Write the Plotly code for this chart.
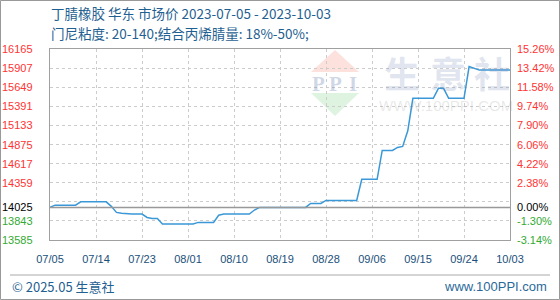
import pandas as pd
import plotly.graph_objects as go

# 丁腈橡胶 华东 市场价, daily quotes from 2023-07-05
start_date = "2023-07-05"
end_date = "2023-10-03"
prices = [
    14025, 14056, 14056, 14056, 14056, 14056, 14100, 14100, 14100, 14100,
    14100, 14100, 14040, 13958, 13945, 13935, 13935, 13935, 13935, 13890,
    13877, 13877, 13802, 13802, 13802, 13802, 13802, 13802, 13802, 13823,
    13823, 13823, 13823, 13920, 13935, 13935, 13935, 13935, 13935, 13935,
    13990, 14025, 14025, 14025, 14025, 14025, 14025, 14025, 14025, 14025,
    14025, 14079, 14079, 14079, 14119, 14119, 14119, 14119, 14119, 14119,
    14119, 14405, 14405, 14405, 14405, 14795, 14795, 14795, 14835, 14849,
    15060, 15499, 15499, 15499, 15499, 15499, 15634, 15634, 15499, 15499,
    15499, 15499, 15928, 15907, 15880, 15880, 15880, 15880, 15880, 15880,
    15880,
]
dates = pd.date_range(start_date, periods=len(prices), freq="D")

base_price = 14025                      # 0% reference price
grid_prices = [13585 + 258 * k for k in range(11)]
label_prices = [13585, 13843, 14025, 14359, 14617, 14875,
                15133, 15391, 15649, 15907, 16165]
x_ticks = pd.date_range(start_date, end_date, freq="9D")

title_line1 = "丁腈橡胶 华东 市场价 2023-07-05 - 2023-10-03"
title_line2 = "门尼粘度: 20-140;结合丙烯腈量: 18%-50%;"

# plot area in page pixels
W_PAGE, H_PAGE = 560, 300
L, T, PW, PH = 50, 49, 460, 191


def px(x):
    return (x - L) / PW


def py(y):
    return (T + PH - y) / PH


RED, GREEN, BLACK = "#ff3333", "#33aa33", "#000000"
TEXT_BLUE = "#1f5f91"
LINE_BLUE = "#3a98d8"
FRAME = "#a0a0a0"

fig = go.Figure()
fig.add_trace(go.Scatter(
    x=dates, y=prices, mode="lines",
    line=dict(color=LINE_BLUE, width=1.5),
    hoverinfo="skip", showlegend=False,
))

annotations = []
shapes = []

# titles
annotations.append(dict(text=title_line1, x=px(49), y=py(13), xref="paper", yref="paper",
                        xanchor="left", yanchor="middle", showarrow=False,
                        font=dict(family="Noto Sans CJK SC", size=13.5, color=TEXT_BLUE)))
annotations.append(dict(text=title_line2, x=px(49), y=py(33), xref="paper", yref="paper",
                        xanchor="left", yanchor="middle", showarrow=False,
                        font=dict(family="Noto Sans CJK SC", size=13.5, color=TEXT_BLUE)))

# left price labels and right percent labels
for v in label_prices:
    col = RED if v > base_price else (BLACK if v == base_price else GREEN)
    pct = (v - base_price) / base_price * 100
    annotations.append(dict(text=str(v), x=px(35), y=v, xref="paper", yref="y",
                            xanchor="right", yanchor="middle", showarrow=False,
                            font=dict(family="Liberation Sans", size=11, color=col)))
    annotations.append(dict(text=f"{pct:.2f}%", x=px(515), y=v, xref="paper", yref="y",
                            xanchor="left", yanchor="middle", showarrow=False,
                            font=dict(family="Liberation Sans", size=11, color=col)))

# baseline at the reference price
shapes.append(dict(type="line", xref="paper", yref="y", x0=0, x1=1,
                   y0=base_price, y1=base_price,
                   line=dict(color="#999999", width=1.5), layer="above"))

# watermark logo
shapes.append(dict(type="path", xref="paper", yref="paper", layer="below",
                   path=f"M {px(335)} {py(50)} L {px(359)} {py(72)} L {px(311)} {py(72)} Z",
                   fillcolor="rgba(240,120,100,0.22)", line=dict(width=0)))
shapes.append(dict(type="path", xref="paper", yref="paper", layer="below",
                   path=f"M {px(311)} {py(93)} L {px(359)} {py(93)} L {px(335)} {py(116)} Z",
                   fillcolor="rgba(110,200,120,0.22)", line=dict(width=0)))
for ch, cx in zip("PPI", [318, 335, 353]):
    annotations.append(dict(text=f"<b>{ch}</b>", x=px(cx), y=py(84), xref="paper", yref="paper",
                            xanchor="center", yanchor="middle", showarrow=False,
                            font=dict(family="Liberation Serif", size=21,
                                      color="rgba(120,140,185,0.35)")))
for ch, cx in zip("生意社", [402, 448, 492]):
    annotations.append(dict(text=f"<b>{ch}</b>", x=px(cx), y=py(72), xref="paper", yref="paper",
                            xanchor="center", yanchor="middle", showarrow=False,
                            font=dict(family="Noto Sans CJK SC", size=36,
                                      color="rgba(120,140,185,0.22)")))
annotations.append(dict(text="WWW.100PPI.COM", x=px(446), y=py(105), xref="paper", yref="paper",
                        xanchor="center", yanchor="middle", showarrow=False,
                        font=dict(family="Liberation Sans", size=15,
                                  color="rgba(150,150,150,0.22)")))

# footer
shapes.append(dict(type="line", xref="paper", yref="paper",
                   x0=px(10), x1=px(550), y0=py(275), y1=py(275),
                   line=dict(color="#aaaaaa", width=1)))
annotations.append(dict(text="© 2025.05 生意社", x=px(10), y=py(286), xref="paper", yref="paper",
                        xanchor="left", yanchor="middle", showarrow=False,
                        font=dict(family="Noto Sans CJK SC", size=13, color=TEXT_BLUE)))
annotations.append(dict(text="www.100PPI.com", x=px(549), y=py(286), xref="paper", yref="paper",
                        xanchor="right", yanchor="middle", showarrow=False,
                        font=dict(family="Liberation Sans", size=13, color="#2a6a9a")))

# outer border of the page
shapes.append(dict(type="rect", xref="paper", yref="paper",
                   x0=px(0.5), x1=px(559.5), y0=py(0.5), y1=py(299.5),
                   line=dict(color="#999999", width=1), fillcolor="rgba(0,0,0,0)"))

fig.update_layout(
    width=W_PAGE, height=H_PAGE,
    margin=dict(l=L, r=W_PAGE - L - PW, t=T, b=H_PAGE - T - PH),
    paper_bgcolor="white", plot_bgcolor="white",
    showlegend=False,
    annotations=annotations, shapes=shapes,
    xaxis=dict(
        type="date", range=[start_date, end_date],
        tickvals=x_ticks, tickformat="%m/%d",
        showgrid=True, gridcolor="#cccccc", griddash="3px,3px", gridwidth=1,
        showline=True, mirror=True, linecolor=FRAME, linewidth=1,
        ticks="", ticklabelstandoff=9,
        tickfont=dict(family="Liberation Sans", size=11, color="#1a4f7a"),
        zeroline=False, fixedrange=True,
    ),
    yaxis=dict(
        range=[grid_prices[0], grid_prices[-1]],
        tickvals=grid_prices, showticklabels=False,
        showgrid=True, gridcolor="#cccccc", griddash="3px,3px", gridwidth=1,
        showline=True, mirror=True, linecolor=FRAME, linewidth=1,
        ticks="", zeroline=False, fixedrange=True,
    ),
)

fig.write_html("out.html")
